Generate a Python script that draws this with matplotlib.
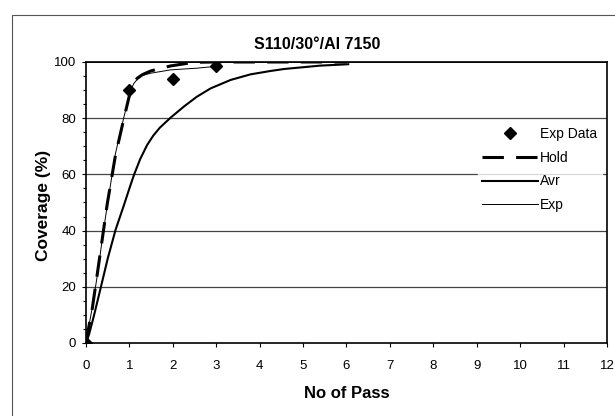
import matplotlib
matplotlib.use('Agg')
import matplotlib.pyplot as plt
from matplotlib.patches import Rectangle
from matplotlib.lines import Line2D

plt.rcParams['font.family'] = ['Liberation Sans', 'DejaVu Sans']

# Experimental points
exp_pass = [0, 1, 2, 3]
exp_cov = [0, 90, 94.0, 98.6]

# Hold model (dashed)
hold_pass = [0, 0.03, 0.145, 0.26, 0.375, 0.49, 0.68, 0.875, 1.03, 1.1, 1.18, 1.3, 1.49,
             1.95, 2.49, 3.0, 6.0]
hold_cov = [0, 2.8, 12.3, 24.5, 37, 49.5, 66.9, 80, 90, 92.5, 94.2, 95.5, 96.8,
            98.6, 99.9, 100, 100]

# Average model (thick solid)
avr_pass = [0, 0.07, 0.18, 0.34, 0.5, 0.68, 0.875, 1.0, 1.105, 1.25, 1.41, 1.55, 1.7,
            1.95, 2.26, 2.55, 2.87, 3.33, 3.79, 4.25, 4.56, 5.39, 6.04]
avr_cov = [0, 3, 9.5, 19.7, 30, 40.2, 49.1, 55, 59.8, 65.5, 70.5, 73.8, 76.6,
           80.2, 84.2, 87.6, 90.6, 93.6, 95.6, 96.8, 97.5, 98.7, 99.2]

# Exponential fit (thin solid)
expfit_pass = [0, 0.03, 0.15, 0.27, 0.38, 0.5, 0.68, 0.875, 1.03, 1.1, 1.18, 1.3, 1.49,
               1.95, 2.56, 3.02]
expfit_cov = [0, 3, 13, 25, 37.5, 50, 67.5, 80.5, 90, 92.3, 93.8, 95.2, 96.0,
              97.2, 97.8, 98.5]

fig = plt.figure(figsize=(6.15, 4.16), dpi=100)
ax = fig.add_axes([0.1398, 0.1755, 0.8472, 0.6755])

# grid lines
for yv in [20, 40, 60, 80]:
    ax.axhline(yv, color='#444444', lw=0.9, zorder=1)
ax.axhline(100, color='black', lw=1.3, zorder=1)

ax.plot(avr_pass, avr_cov, color='black', lw=1.5, zorder=3)
ax.plot(expfit_pass, expfit_cov, color='black', lw=0.7, zorder=3)
ax.plot(hold_pass, hold_cov, color='black', lw=2.2, dashes=(7, 4), zorder=4)
ax.plot(exp_pass, exp_cov, linestyle='none', marker='D', color='black',
        markersize=6.5, zorder=5)

ax.set_xlim(0, 12)
ax.set_ylim(0, 100)
ax.set_xticks(range(0, 13))
ax.set_yticks(range(0, 101, 20))
ax.set_yticks(range(0, 101, 5), minor=True)
ax.tick_params(axis='both', labelsize=9.5, length=3, width=0.8)
ax.tick_params(axis='x', pad=9.5)
ax.tick_params(axis='y', pad=4)
ax.tick_params(axis='y', which='minor', length=2, width=0.8)
for s in ax.spines.values():
    s.set_linewidth(1.2)

fig.text(0.515, 0.894, 'S110/30°/Al 7150', fontsize=11.5, fontweight='bold',
         ha='center', va='center')
ax.set_xlabel('No of Pass', fontsize=12, fontweight='bold', labelpad=9.5)
fig.text(0.0715, 0.507, 'Coverage (%)', fontsize=12.5, fontweight='bold',
         rotation=90, ha='center', va='center')

handles = [
    Line2D([], [], linestyle='none', marker='D', color='black', markersize=6),
    Line2D([], [], color='black', lw=2.2, dashes=(7, 4)),
    Line2D([], [], color='black', lw=1.5),
    Line2D([], [], color='black', lw=0.7),
]
leg = ax.legend(handles, ['Exp Data', 'Hold', 'Avr', 'Exp'], loc='center left',
                bbox_to_anchor=(0.752, 0.617), frameon=True, fontsize=10,
                handlelength=4.0, handletextpad=0.2, labelspacing=0.7,
                borderpad=0.3, borderaxespad=0)
leg.get_frame().set_facecolor('white')
leg.get_frame().set_edgecolor('white')

# outer chart border
fig.patches.append(Rectangle((0.0195, -0.02), 1.1, 0.984, transform=fig.transFigure,
                             fill=False, edgecolor='#555555', lw=0.8))

fig.savefig('out.png', dpi=100)
